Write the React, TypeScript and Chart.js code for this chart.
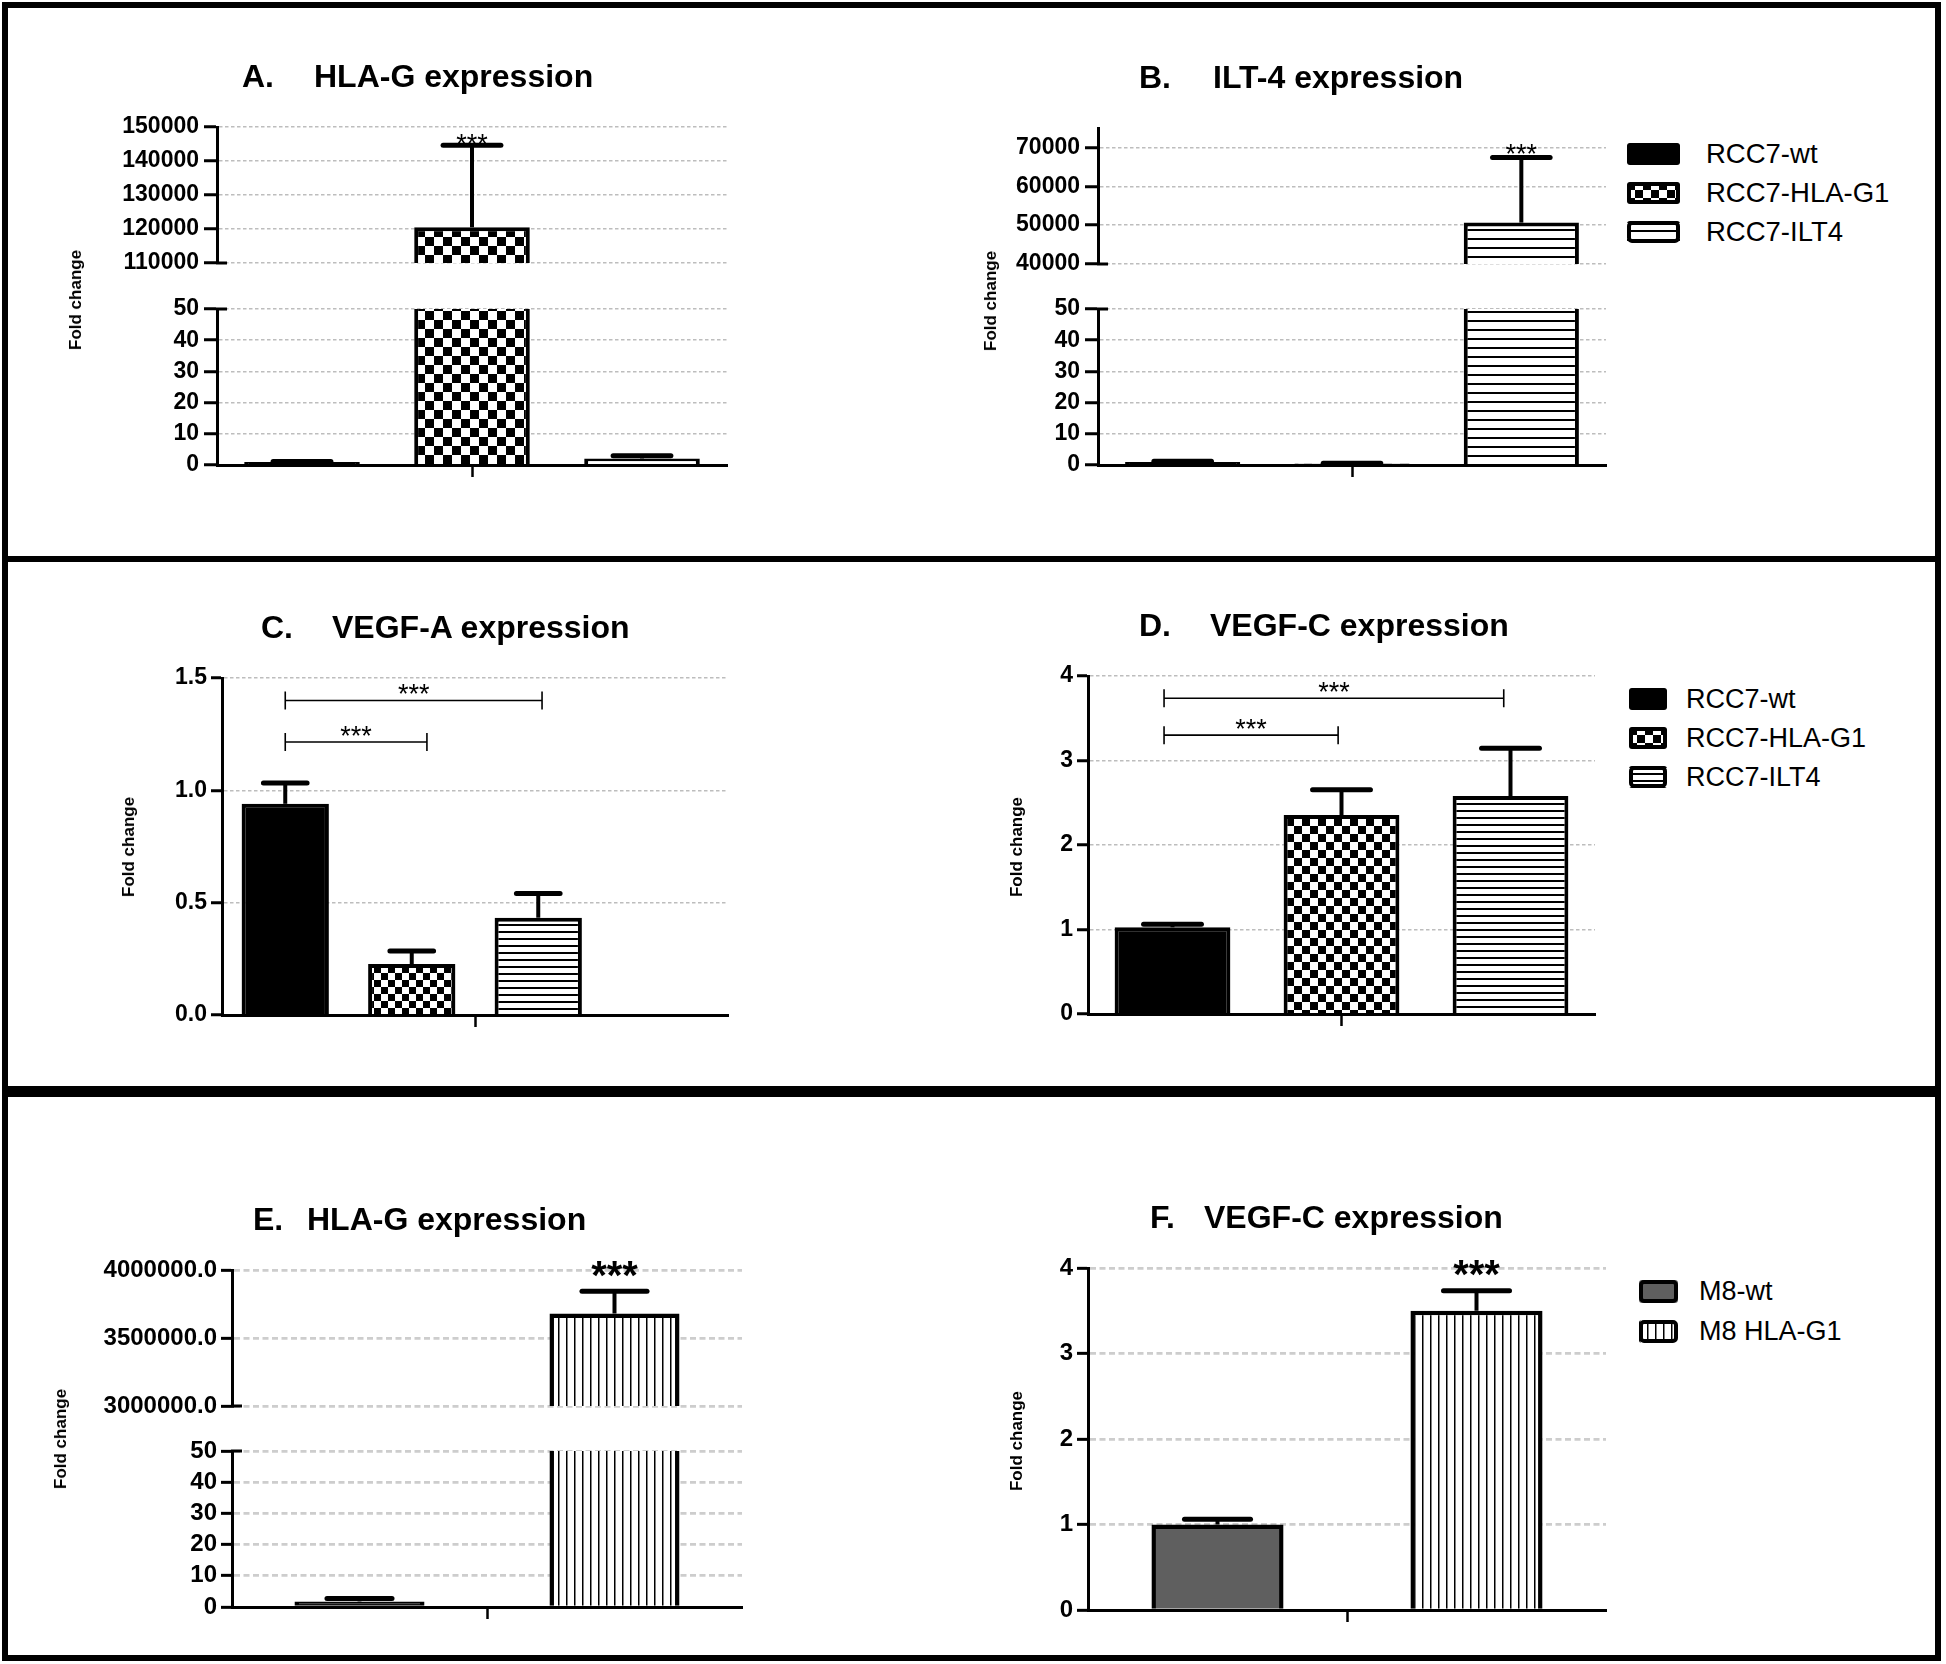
import React, { useEffect, useRef } from 'react';
import { Chart, registerables } from 'chart.js';

Chart.register(...registerables);

const FONT = '"Liberation Sans", Arial, Helvetica, sans-serif';
Chart.defaults.font.family = FONT;
Chart.defaults.color = '#000';

// ------------------------------------------------------------------
// DATA
// ------------------------------------------------------------------
const rccGroups = ['RCC7-wt', 'RCC7-HLA-G1', 'RCC7-ILT4'];
const m8Groups = ['M8-wt', 'M8 HLA-G1'];

// A. HLA-G expression (RCC7) – mean fold change and upper error
const hlaGMean = [1.0, 120500, 2.1];
const hlaGError = [0.15, 24150, 0.9];
const hlaGUpperTicks = [110000, 120000, 130000, 140000, 150000];
const hlaGLowerTicks = [0, 10, 20, 30, 40, 50];
const hlaGStar = 147000;

// B. ILT-4 expression (RCC7)
const ilt4Mean = [1.0, 0.5, 50650];
const ilt4Error = [0.2, 0.1, 16750];
const ilt4UpperTicks = [40000, 50000, 60000, 70000];
const ilt4UpperMax = 75000;
const ilt4LowerTicks = [0, 10, 20, 30, 40, 50];
const ilt4Star = 70000;

// C. VEGF-A expression (RCC7)
const vegfAMean = [0.94, 0.227, 0.433];
const vegfAError = [0.093, 0.058, 0.108];
const vegfATicks = [0.0, 0.5, 1.0, 1.5];
const vegfABrackets = [
  { from: 0, to: 2.03, y: 1.4 },
  { from: 0, to: 1.12, y: 1.215 },
];

// D. VEGF-C expression (RCC7)
const vegfCMean = [1.026, 2.355, 2.579];
const vegfCError = [0.035, 0.3, 0.567];
const vegfCTicks = [0, 1, 2, 3, 4];
const vegfCBrackets = [
  { from: -0.05, to: 1.96, y: 3.736 },
  { from: -0.05, to: 0.98, y: 3.3 },
];

// E. HLA-G expression (M8)
const m8HlaGMean = [1.8, 3680000];
const m8HlaGError = [0.9, 163000];
const m8HlaGUpperTicks = [3000000, 3500000, 4000000];
const m8HlaGLowerTicks = [0, 10, 20, 30, 40, 50];
const m8HlaGStar = 4030000;

// F. VEGF-C expression (M8)
const m8VegfCMean = [1.0, 3.5];
const m8VegfCError = [0.06, 0.235];
const m8VegfCTicks = [0, 1, 2, 3, 4];
const m8VegfCStar = 4.03;

// ------------------------------------------------------------------
// Styles
// ------------------------------------------------------------------
type FillSpec =
  | { kind: 'solid'; color: string }
  | { kind: 'checker'; size: number }
  | { kind: 'hstripe'; period: number; line: number }
  | { kind: 'vstripe'; period: number; line: number };

const wtFill: FillSpec = { kind: 'solid', color: '#000' };
const m8wtFill: FillSpec = { kind: 'solid', color: '#5f5f5f' };
const m8wtSmallFill: FillSpec = { kind: 'solid', color: '#111' };
const checker = (size: number): FillSpec => ({ kind: 'checker', size });
const hstripe = (period: number): FillSpec => ({ kind: 'hstripe', period, line: 2 });
const vstripe = (period: number): FillSpec => ({ kind: 'vstripe', period, line: 1.5 });

function makeFill(spec: FillSpec): any {
  if (spec.kind === 'solid') return spec.color;
  const tile = document.createElement('canvas');
  const c = tile.getContext('2d')!;
  if (spec.kind === 'checker') {
    const s = spec.size;
    tile.width = s * 2;
    tile.height = s * 2;
    c.fillStyle = '#fff';
    c.fillRect(0, 0, s * 2, s * 2);
    c.fillStyle = '#000';
    c.fillRect(0, 0, s, s);
    c.fillRect(s, s, s, s);
  } else if (spec.kind === 'hstripe') {
    tile.width = 4;
    tile.height = spec.period;
    c.fillStyle = '#fff';
    c.fillRect(0, 0, 4, spec.period);
    c.fillStyle = '#000';
    c.fillRect(0, 0, 4, spec.line);
  } else {
    tile.width = spec.period;
    tile.height = 4;
    c.fillStyle = '#fff';
    c.fillRect(0, 0, spec.period, 4);
    c.fillStyle = '#000';
    c.fillRect(0, 0, spec.line, 4);
  }
  return document.createElement('canvas').getContext('2d')!.createPattern(tile, 'repeat');
}

const rowGrid = { color: '#bdbdbd', width: 1.5, dash: [3.5, 2.5] };
const row3Grid = { color: '#cdcdcd', width: 2.7, dash: [6, 3.5] };
const intFmt = (v: number) => String(Math.round(v));
const oneDec = (v: number) => v.toFixed(1);

const YW = 170;
const PR = 20;
const PT = 34;
const XH = 20;

interface SegSpec {
  key: string;
  area: number[];
  labels: string[];
  mean: (number | null)[];
  error: (number | null)[];
  fills: FillSpec[];
  ticks: number[];
  min: number;
  max: number;
  fmt: (v: number) => string;
  xAxis: boolean;
  breakAt?: 'top' | 'bottom';
  star?: { index: number; y: number; size: number; weight: string };
  brackets?: { from: number; to: number; y: number }[];
  barPct: number;
  barBorder: number;
  grid: { color: string; width: number; dash: number[] };
  tickLen: number;
  tickPad: number;
  tickFont: number;
}

const aBase = {
  labels: rccGroups, mean: hlaGMean, error: hlaGError,
  fills: [wtFill, checker(9), hstripe(9)], barPct: 0.68, barBorder: 4,
  grid: rowGrid, tickLen: 13, tickPad: 5, tickFont: 23,
};
const bBase = {
  labels: rccGroups, mean: ilt4Mean, error: ilt4Error,
  fills: [wtFill, checker(8), hstripe(9)], barPct: 0.68, barBorder: 4,
  grid: rowGrid, tickLen: 13, tickPad: 5, tickFont: 23,
};
const eBase = {
  labels: m8Groups, mean: m8HlaGMean, error: m8HlaGError,
  fills: [m8wtSmallFill, vstripe(8)], barPct: 0.51, barBorder: 4.5,
  grid: row3Grid, tickLen: 11, tickPad: 4, tickFont: 24,
};

const segments: SegSpec[] = [
  { key: 'A-top', ...aBase, area: [217, 127, 727, 283], ticks: hlaGUpperTicks, min: hlaGUpperTicks[0], max: hlaGUpperTicks[hlaGUpperTicks.length - 1], fmt: intFmt, xAxis: false, breakAt: 'bottom', star: { index: 1, y: hlaGStar, size: 27, weight: 'normal' } },
  { key: 'A-bot', ...aBase, area: [217, 309, 727, 465], ticks: hlaGLowerTicks, min: 0, max: 50, fmt: intFmt, xAxis: true, breakAt: 'top' },
  { key: 'B-top', ...bBase, area: [1098, 128, 1606, 284], ticks: ilt4UpperTicks, min: ilt4UpperTicks[0], max: ilt4UpperMax, fmt: intFmt, xAxis: false, breakAt: 'bottom', star: { index: 2, y: ilt4Star, size: 27, weight: 'normal' } },
  { key: 'B-bot', ...bBase, area: [1098, 309, 1606, 465], ticks: ilt4LowerTicks, min: 0, max: 50, fmt: intFmt, xAxis: true, breakAt: 'top' },
  {
    key: 'C', area: [222, 678, 728, 1015], labels: [...rccGroups, ''], mean: [...vegfAMean, null], error: [...vegfAError, null],
    fills: [wtFill, checker(7), hstripe(7), wtFill], ticks: vegfATicks, min: 0, max: 1.5, fmt: oneDec, xAxis: true,
    brackets: vegfABrackets, barPct: 0.69, barBorder: 4, grid: rowGrid, tickLen: 11, tickPad: 4, tickFont: 23,
  },
  {
    key: 'D', area: [1088, 676, 1595, 1014], labels: rccGroups, mean: vegfCMean, error: vegfCError,
    fills: [wtFill, checker(8), hstripe(7)], ticks: vegfCTicks, min: 0, max: 4, fmt: intFmt, xAxis: true,
    brackets: vegfCBrackets, barPct: 0.685, barBorder: 4, grid: rowGrid, tickLen: 11, tickPad: 4, tickFont: 23,
  },
  { key: 'E-top', ...eBase, area: [232, 1270, 742, 1426], ticks: m8HlaGUpperTicks, min: m8HlaGUpperTicks[0], max: m8HlaGUpperTicks[m8HlaGUpperTicks.length - 1], fmt: oneDec, xAxis: false, breakAt: 'bottom', star: { index: 1, y: m8HlaGStar, size: 40, weight: 'bold' } },
  { key: 'E-bot', ...eBase, area: [232, 1451, 742, 1607], ticks: m8HlaGLowerTicks, min: 0, max: 50, fmt: intFmt, xAxis: true, breakAt: 'top' },
  {
    key: 'F', area: [1088, 1268, 1606, 1610], labels: m8Groups, mean: m8VegfCMean, error: m8VegfCError,
    fills: [m8wtFill, vstripe(8)], ticks: m8VegfCTicks, min: 0, max: 4, fmt: intFmt, xAxis: true,
    star: { index: 1, y: m8VegfCStar, size: 40, weight: 'bold' }, barPct: 0.51, barBorder: 4.5,
    grid: row3Grid, tickLen: 11, tickPad: 4, tickFont: 24,
  },
];

// ------------------------------------------------------------------
// Plugins
// ------------------------------------------------------------------
const errorBarPlugin = {
  id: 'errorBars',
  afterDatasetsDraw(chart: any) {
    const { ctx, chartArea: a } = chart;
    const ys = chart.scales.y;
    ctx.save();
    ctx.beginPath();
    ctx.rect(a.left - 40, a.top, a.right - a.left + 80, a.bottom - a.top);
    ctx.clip();
    ctx.strokeStyle = '#000';
    const clampY = (p: number) => Math.max(a.top - 50, Math.min(a.bottom + 50, p));
    chart.data.datasets.forEach((ds: any, i: number) => {
      const v = ds.data[0];
      const e = ds.errorValue;
      if (v == null || e == null) return;
      const bar = chart.getDatasetMeta(i).data[0];
      if (!bar) return;
      const y0 = clampY(ys.getPixelForValue(v));
      const y1raw = ys.getPixelForValue(v + e);
      const y1 = clampY(y1raw);
      const half = bar.width * 0.25;
      ctx.lineCap = 'butt';
      ctx.lineWidth = 4;
      ctx.beginPath();
      ctx.moveTo(bar.x, y0);
      ctx.lineTo(bar.x, y1);
      ctx.stroke();
      if (y1raw >= a.top - 10 && y1raw <= a.bottom + 10) {
        ctx.lineCap = 'round';
        ctx.lineWidth = 5;
        ctx.beginPath();
        ctx.moveTo(bar.x - half, y1raw);
        ctx.lineTo(bar.x + half, y1raw);
        ctx.stroke();
      }
    });
    ctx.restore();
  },
};

function starPlugin(star?: SegSpec['star']) {
  return {
    id: 'stars',
    afterDraw(chart: any) {
      if (!star) return;
      const bar = chart.getDatasetMeta(star.index).data[0];
      if (!bar) return;
      const { ctx } = chart;
      const py = chart.scales.y.getPixelForValue(star.y);
      ctx.save();
      ctx.font = `${star.weight} ${star.size}px ${FONT}`;
      ctx.fillStyle = '#000';
      ctx.textAlign = 'center';
      ctx.textBaseline = 'alphabetic';
      ctx.fillText('***', bar.x, py + 0.573 * star.size);
      ctx.restore();
    },
  };
}

function bracketPlugin(brackets?: SegSpec['brackets']) {
  return {
    id: 'brackets',
    afterDraw(chart: any) {
      if (!brackets) return;
      const { ctx } = chart;
      const c0 = chart.getDatasetMeta(0).data[0].x;
      const c1 = chart.getDatasetMeta(1).data[0].x;
      const px = (t: number) => c0 + t * (c1 - c0);
      ctx.save();
      ctx.strokeStyle = '#000';
      ctx.fillStyle = '#000';
      ctx.lineWidth = 1.6;
      brackets.forEach((b) => {
        const y = chart.scales.y.getPixelForValue(b.y);
        const x1 = px(b.from);
        const x2 = px(b.to);
        ctx.beginPath();
        ctx.moveTo(x1, y);
        ctx.lineTo(x2, y);
        ctx.moveTo(x1, y - 9);
        ctx.lineTo(x1, y + 9);
        ctx.moveTo(x2, y - 9);
        ctx.lineTo(x2, y + 9);
        ctx.stroke();
        ctx.font = `normal 27px ${FONT}`;
        ctx.textAlign = 'center';
        ctx.textBaseline = 'alphabetic';
        ctx.fillText('***', (x1 + x2) / 2, y - 13 + 0.573 * 27);
      });
      ctx.restore();
    },
  };
}

function breakPlugin(side?: 'top' | 'bottom') {
  return {
    id: 'breakMark',
    afterDraw(chart: any) {
      if (!side) return;
      const a = chart.chartArea;
      const y = side === 'top' ? a.top : a.bottom;
      const { ctx } = chart;
      ctx.save();
      ctx.strokeStyle = '#000';
      ctx.lineWidth = 3;
      ctx.beginPath();
      ctx.moveTo(a.left - 1, y);
      ctx.lineTo(a.left + 10, y);
      ctx.stroke();
      ctx.restore();
    },
  };
}

// ------------------------------------------------------------------
// Chart segments
// ------------------------------------------------------------------
function geometry(s: SegSpec) {
  const [l, t, r, b] = s.area;
  const pb = s.xAxis ? 6 : 20;
  return { x: l - YW, y: t - PT, w: YW + (r - l) + PR, h: PT + (b - t) + (s.xAxis ? XH : 0) + pb, pb };
}

function buildConfig(s: SegSpec): any {
  const g = geometry(s);
  return {
    type: 'bar',
    data: {
      labels: [''],
      datasets: s.labels.map((label, i) => ({
        label,
        data: [s.mean[i]],
        errorValue: s.error[i],
        backgroundColor: makeFill(s.fills[i]),
        borderColor: '#000',
        borderWidth: s.barBorder,
        borderSkipped: 'start',
        barPercentage: s.barPct,
        categoryPercentage: 1,
        clip: 0,
      })),
    },
    options: {
      responsive: false,
      animation: false,
      devicePixelRatio: 1,
      events: [],
      layout: { padding: { left: 0, right: PR, top: PT, bottom: g.pb } },
      plugins: { legend: { display: false }, title: { display: false }, tooltip: { enabled: false } },
      scales: {
        x: {
          display: s.xAxis,
          offset: true,
          afterFit: (sc: any) => { sc.height = XH; },
          ticks: { display: false },
          grid: { display: true, drawOnChartArea: false, drawTicks: true, tickLength: 12, tickWidth: 2.5, tickColor: '#000', offset: false },
          border: { display: true, color: '#000', width: 3, z: 1 },
        },
        y: {
          min: s.min,
          max: s.max,
          bounds: 'data',
          afterBuildTicks: (sc: any) => { sc.ticks = s.ticks.map((v) => ({ value: v })); },
          afterFit: (sc: any) => { sc.width = YW; },
          ticks: {
            color: '#000',
            font: { size: s.tickFont, weight: 'bold', family: FONT },
            padding: s.tickPad,
            autoSkip: false,
            callback: (v: any) => s.fmt(Number(v)),
          },
          grid: { color: s.grid.color, lineWidth: s.grid.width, tickLength: s.tickLen, tickWidth: 3, tickColor: '#000', drawTicks: true },
          border: { display: true, color: '#000', width: 3, dash: s.grid.dash, z: 1 },
        },
      },
    },
    plugins: [errorBarPlugin, starPlugin(s.star), bracketPlugin(s.brackets), breakPlugin(s.breakAt)],
  };
}

function SegChart({ spec }: { spec: SegSpec }) {
  const ref = useRef<HTMLCanvasElement>(null);
  const g = geometry(spec);
  useEffect(() => {
    const chart = new Chart(ref.current!, buildConfig(spec));
    return () => chart.destroy();
  }, []);
  return (
    <canvas
      ref={ref}
      width={g.w}
      height={g.h}
      style={{ position: 'absolute', left: g.x, top: g.y, width: g.w, height: g.h }}
    />
  );
}

// ------------------------------------------------------------------
// Legends, titles, labels
// ------------------------------------------------------------------
function Swatch({ fill, x, y, w, h }: { fill: FillSpec; x: number; y: number; w: number; h: number }) {
  const ref = useRef<HTMLCanvasElement>(null);
  useEffect(() => {
    const c = ref.current!.getContext('2d')!;
    c.clearRect(0, 0, w, h);
    const path = (inset: number) => {
      c.beginPath();
      if ((c as any).roundRect) (c as any).roundRect(inset, inset, w - 2 * inset, h - 2 * inset, 3);
      else c.rect(inset, inset, w - 2 * inset, h - 2 * inset);
    };
    path(0);
    c.fillStyle = makeFill(fill);
    c.fill();
    path(2);
    c.lineWidth = 4;
    c.strokeStyle = '#000';
    c.stroke();
  }, []);
  return <canvas ref={ref} width={w} height={h} style={{ position: 'absolute', left: x, top: y, width: w, height: h }} />;
}

const legends = [
  { items: rccGroups, fills: [wtFill, checker(8), hstripe(9)], x: 1627, w: 53, h: 22, cy0: 154, step: 39, tx: 1706, size: 27.5 },
  { items: rccGroups, fills: [wtFill, checker(8), hstripe(7)], x: 1629, w: 38, h: 22, cy0: 699, step: 39, tx: 1686, size: 27 },
  { items: m8Groups, fills: [m8wtFill, vstripe(8)], x: 1639, w: 39, h: 23, cy0: 1291, step: 40, tx: 1699, size: 27 },
];

const titles = [
  { letter: 'A.', text: 'HLA-G expression', lx: 242, tx: 314, cy: 76 },
  { letter: 'B.', text: 'ILT-4 expression', lx: 1139, tx: 1213, cy: 77 },
  { letter: 'C.', text: 'VEGF-A expression', lx: 261, tx: 332, cy: 627 },
  { letter: 'D.', text: 'VEGF-C expression', lx: 1139, tx: 1210, cy: 625 },
  { letter: 'E.', text: 'HLA-G expression', lx: 253, tx: 307, cy: 1219 },
  { letter: 'F.', text: 'VEGF-C expression', lx: 1150, tx: 1204, cy: 1217 },
];

const yLabels = [
  { cx: 76, cy: 300 },
  { cx: 991, cy: 301 },
  { cx: 129, cy: 847 },
  { cx: 1017, cy: 847 },
  { cx: 61, cy: 1439 },
  { cx: 1017, cy: 1441 },
];

export default function App() {
  const titleStyle: React.CSSProperties = {
    position: 'absolute', font: `bold 32px ${FONT}`, lineHeight: '32px', whiteSpace: 'nowrap', color: '#000',
  };
  return (
    <div style={{ position: 'absolute', left: 0, top: 0, width: 1946, height: 1664, background: '#fff', overflow: 'hidden', fontFamily: FONT }}>
      <div style={{ position: 'absolute', left: 2, top: 2, width: 1939, height: 1659, border: '6px solid #000', boxSizing: 'border-box' }} />
      <div style={{ position: 'absolute', left: 2, top: 556, width: 1939, height: 6, background: '#000' }} />
      <div style={{ position: 'absolute', left: 2, top: 1086, width: 1939, height: 11, background: '#000' }} />

      {segments.map((s) => <SegChart key={s.key} spec={s} />)}

      {titles.map((t) => (
        <React.Fragment key={t.letter}>
          <div style={{ ...titleStyle, left: t.lx, top: t.cy - 16 }}>{t.letter}</div>
          <div style={{ ...titleStyle, left: t.tx, top: t.cy - 16 }}>{t.text}</div>
        </React.Fragment>
      ))}

      {yLabels.map((l, i) => (
        <div
          key={i}
          style={{
            position: 'absolute', left: l.cx, top: l.cy, transform: 'translate(-50%, -50%) rotate(-90deg)',
            font: `bold 17px ${FONT}`, whiteSpace: 'nowrap', color: '#000',
          }}
        >
          Fold change
        </div>
      ))}

      {legends.map((lg, li) =>
        lg.items.map((item, i) => {
          const cy = lg.cy0 + i * lg.step;
          return (
            <React.Fragment key={`${li}-${i}`}>
              <Swatch fill={lg.fills[i]} x={lg.x} y={Math.round(cy - lg.h / 2)} w={lg.w} h={lg.h} />
              <div style={{ position: 'absolute', left: lg.tx, top: cy - 14, font: `${lg.size}px ${FONT}`, lineHeight: '28px', whiteSpace: 'nowrap', color: '#000' }}>
                {item}
              </div>
            </React.Fragment>
          );
        })
      )}
    </div>
  );
}
